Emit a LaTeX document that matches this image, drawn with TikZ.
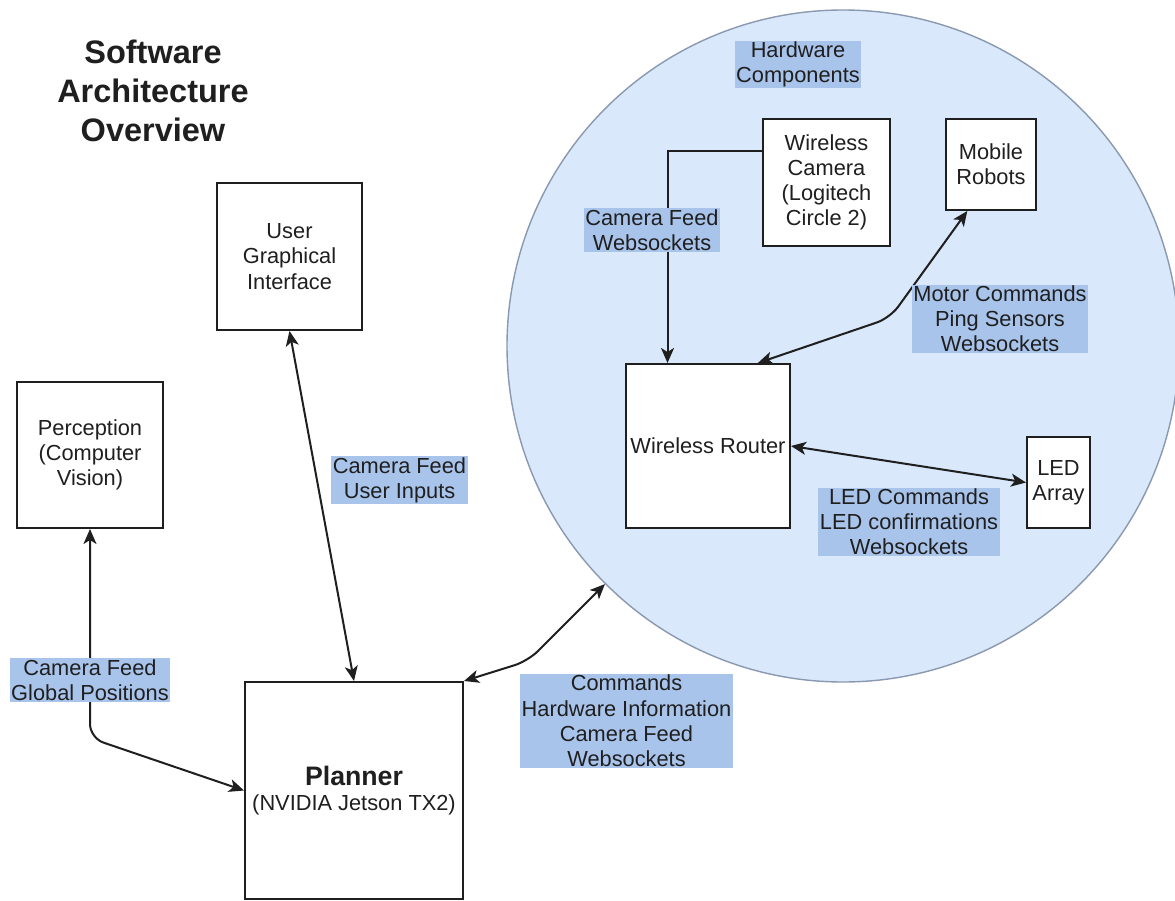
\documentclass[tikz,border=0pt]{standalone}
\usepackage{fontspec}
\setmainfont{Liberation Sans}
\usetikzlibrary{arrows.meta}
\definecolor{hwfill}{HTML}{DAE8FC}
\definecolor{hwline}{HTML}{8A98B0}
\definecolor{tagfill}{HTML}{A9C4EB}
\definecolor{ink}{HTML}{1F1F1F}
\newcommand\bodyfont{\fontsize{21.8}{25.2}\selectfont}
\begin{document}
\begin{tikzpicture}[x=1pt,y=-1pt,
  box/.style={draw=ink, line width=2pt, fill=white, align=center,
    inner sep=0pt, font=\bodyfont, text=ink},
  tag/.style={fill=tagfill, align=center, inner xsep=1.5pt, inner ysep=1pt,
    font=\bodyfont, text=ink},
  hd/.tip={Stealth[length=15pt,width=13pt,inset=4pt]},
  link/.style={draw=ink, line width=2pt, {hd}-{hd}, rounded corners=14pt},
  feed/.style={draw=ink, line width=2pt, -{hd}}]

\path[use as bounding box] (0,0) rectangle (1175,901);
\clip (0,0) rectangle (1175,901);
\fill[white] (0,0) rectangle (1175,901);

% hardware enclosure
\node[circle, draw=hwline, line width=1.4pt, fill=hwfill, minimum size=672pt,
  inner sep=0pt] (hw) at (843,346) {};

% title
\node[align=center, font=\fontsize{32.5}{39}\selectfont\bfseries, text=ink]
  (title) at (153,91) {Software\\Architecture\\Overview};

% software blocks
\node[box, minimum width=145pt, minimum height=147pt] (ugi) at (289.5,256.5)
  {User\\Graphical\\Interface};
\node[box, minimum width=146pt, minimum height=146pt] (perc) at (90,455)
  {Perception\\(Computer\\Vision)};
\node[box, minimum width=218pt, minimum height=217pt] (planner) at (354,790.5)
  {{\fontsize{26.7}{28}\selectfont\bfseries Planner}\\(NVIDIA Jetson TX2)};

% hardware blocks
\node[box, minimum width=127pt, minimum height=127pt] (cam) at (826.5,182.5)
  {Wireless\\Camera\\(Logitech\\Circle 2)};
\node[box, minimum width=90pt, minimum height=91pt] (robots) at (991,164.5)
  {Mobile\\Robots};
\node[box, minimum width=164pt, minimum height=164pt] (router) at (708,446)
  {Wireless Router};
\node[box, minimum width=63pt, minimum height=91pt] (led) at (1058.5,482.5)
  {LED\\Array};

% bend points
\coordinate (bendP) at (90,738);
\coordinate (bendH) at (528,661);
\coordinate (bendR) at (890,318);

% connectors
\draw[feed] (cam.154) -| (router.116);
\draw[link] (router.59) -- (bendR) -- (robots.243);
\draw[link] (router.east) -- (led.west);
\draw[link] (ugi.south) -- (planner.north);
\draw[link] (perc.south) -- (bendP) -- (planner.west);
\draw[link] (planner.north east) -- (bendH) -- (hw.225);

% connector captions
\node[tag] (tHw) at (798,64.5) {Hardware\\Components};
\node[tag] (tCam) at (652,230) {Camera Feed\\Websockets};
\node[tag] (tBot) at (1000,319) {Motor Commands\\Ping Sensors\\Websockets};
\node[tag] (tUgi) at (399.5,480) {Camera Feed\\User Inputs};
\node[tag] (tLed) at (909,522) {LED Commands\\LED confirmations\\Websockets};
\node[tag] (tPerc) at (90,680) {Camera Feed\\Global Positions};
\node[tag] (tPlan) at (626.5,721) {Commands\\Hardware Information\\Camera Feed\\Websockets};
\end{tikzpicture}
\end{document}
